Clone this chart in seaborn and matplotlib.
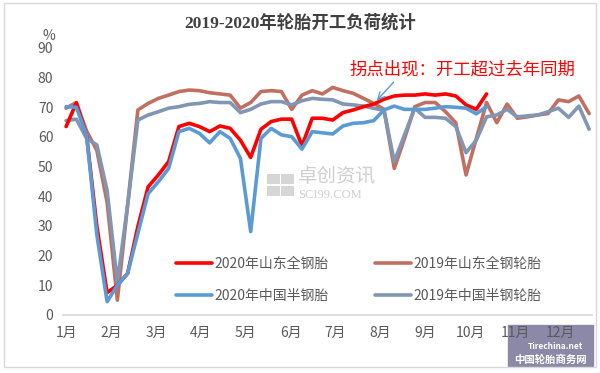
import numpy as np
import pandas as pd
import seaborn as sns
import matplotlib.pyplot as plt
from matplotlib.patches import Rectangle

# weekly load rates (%)
sd_2020 = [63.5, 71.5, 60.5, 30, 7.5, 10, 14, 29.8, 43.2, 47.2, 51.7, 63.5, 64.6, 63.5,
           61.8, 63.7, 62.9, 58.9, 53.1, 62.6, 65.2, 66, 66, 57, 66.3, 66.3, 65.7, 68.2,
           69.1, 70.2, 71.1, 72.7, 73.8, 74.1, 74.1, 74.5, 74.1, 74.5, 73.8, 70.8, 69.3, 74.5]
sd_2019 = [69.7, 71.6, 62, 55.5, 38, 5, 37, 69.1, 71.3, 73, 74.1, 75.3, 75.8, 75.6,
           74.9, 74.5, 74.1, 69.7, 71.6, 75.3, 75.6, 75.3, 69.3, 74.1, 75.6, 74.5, 76.7, 75.6,
           74.7, 73, 71.3, 69.3, 49.4, 59.5, 70.2, 71.6, 71.6, 68.5, 64.8, 47.2, 59.5, 71.6,
           64.8, 71.1, 66.3, 66.8, 67.4, 67.9, 72.5, 71.9, 73.8, 67.9]
cn_2020 = [70.2, 70, 60.5, 27, 4.5, 10, 14, 27.5, 40.9, 44.9, 49.4, 61.8, 62.9, 61.2,
           58, 61.8, 59.5, 52.8, 28.1, 59.5, 62.9, 60.7, 60.1, 55.9, 61.8, 61.4, 61, 63.7,
           64.6, 64.8, 65.5, 69.1, 70.4, 69.3, 69.3, 69.3, 69.7, 70.2, 70, 69.7, 67.8, 70.2]
cn_2019 = [65.5, 66, 59.5, 57.3, 42, 11, 37, 65.7, 67.4, 68.5, 69.7, 70.2, 71, 71.3,
           71.9, 71.6, 71.6, 68.2, 69.3, 71.1, 71.9, 71.9, 70.8, 72.2, 73, 72.7, 72.5, 71.1,
           70.8, 70.4, 69.7, 68.9, 51.7, 60.7, 69.7, 66.6, 66.6, 66.3, 63.5, 54.7, 58.9, 66.8,
           67.4, 69.3, 66.8, 67.1, 67.4, 68.5, 69.7, 66.6, 70.4, 62.6]

names = ['2020年山东全钢胎', '2019年山东全钢轮胎', '2020年中国半钢胎', '2019年中国半钢轮胎']
colors = ['#FF0000', '#C07060', '#5B9BD5', '#8096B2']
months = ['1月', '2月', '3月', '4月', '5月', '6月', '7月', '8月', '9月', '10月', '11月', '12月']

frames = []
for name, vals in zip(names, [sd_2020, sd_2019, cn_2020, cn_2019]):
    frames.append(pd.DataFrame({'week': np.arange(len(vals)), 'rate': vals, 'series': name}))
df = pd.concat(frames, ignore_index=True)

sns.set_theme(style='white')
plt.rcParams['font.family'] = ['Noto Sans CJK SC', 'DejaVu Sans']

fig = plt.figure(figsize=(6, 3.73), dpi=100)
ax = fig.add_axes([0.105, 0.1555, 0.882, 0.716])

# draw 2019 first so 2020 sits on top
draw_order = [names[1], names[3], names[0], names[2]]
for name in draw_order:
    sub = df[df['series'] == name]
    sns.lineplot(data=sub, x='week', y='rate', ax=ax, color=colors[names.index(name)],
                 linewidth=2.6, label=name, legend=False)

ax.set_xlim(-0.3, 51.3)
ax.set_ylim(0, 90)
ax.set_yticks(range(0, 91, 10))
ax.set_xticks(np.arange(12) * 4.38)
ax.set_xticklabels(months)
ax.set_xlabel('')
ax.set_ylabel('')
ax.tick_params(axis='both', colors='#595959', labelsize=10, length=0)
ax.tick_params(axis='x', pad=8)
ax.tick_params(axis='y', pad=7)
for s in ['top', 'right', 'left']:
    ax.spines[s].set_visible(False)
ax.spines['bottom'].set_color('#D9D9D9')

ax.text(-1.1, 91.5, '%', fontsize=10, color='#595959', ha='right', va='bottom')

fig.text(0.5, 0.94, '2019-2020年轮胎开工负荷统计', ha='center', va='center', fontsize=12.5,
         fontweight='bold', color='#404040', family=['Liberation Serif', 'Noto Sans CJK SC'])

ax.annotate('拐点出现：开工超过去年同期', xy=(30.3, 72.3), xytext=(27.6, 82.6),
            fontsize=12.5, color='#FF0000', ha='left', va='center',
            arrowprops=dict(arrowstyle='->', color='#5B9BD5', lw=1,
                            relpos=(0.21, 0.0), shrinkA=0, shrinkB=0))

# watermark
wm = '#CFCFCF'
for (x0, y0) in [(19.6, 40.0), (21.0, 40.0), (19.6, 44.0), (21.0, 44.0)]:
    ax.add_patch(Rectangle((x0, y0), 1.25, 3.6, color=wm, lw=0, alpha=0.85))
ax.text(22.6, 46.6, '卓创资讯', fontsize=14, color=wm, ha='left', va='center')
ax.text(22.6, 40.4, 'SCI99.COM', fontsize=9, color=wm, ha='left', va='center',
        family='Liberation Serif')

lines = {l.get_label(): l for l in ax.get_lines()}
handles = [lines[names[0]], lines[names[2]], lines[names[1]], lines[names[3]]]
labels = [names[0], names[2], names[1], names[3]]
ax.legend(handles, labels, ncol=2, loc='lower left', bbox_to_anchor=(0.19, 0.0),
          frameon=False, fontsize=10, labelcolor='#595959', handlelength=2.6,
          handletextpad=0.2, columnspacing=3.3, labelspacing=1.3)

# logo box bottom right, behind the month labels
fig.patches.append(Rectangle((0.847, 0.02), 0.141, 0.108, transform=fig.transFigure,
                             color='#8C89A8', zorder=-1))
fig.text(0.925, 0.072, 'Tirechina.net', ha='center', va='center', fontsize=6, color='white',
         style='italic', fontweight='bold', zorder=6)
fig.text(0.917, 0.036, '中国轮胎商务网', ha='center', va='center', fontsize=7.5, color='white',
         fontweight='bold', zorder=6)

# chart border
fig.patches.append(Rectangle((0.007, 0.016), 0.987, 0.975, transform=fig.transFigure,
                             fill=False, edgecolor='#D9D9D9', lw=1))

fig.savefig('out.png', dpi=100)
